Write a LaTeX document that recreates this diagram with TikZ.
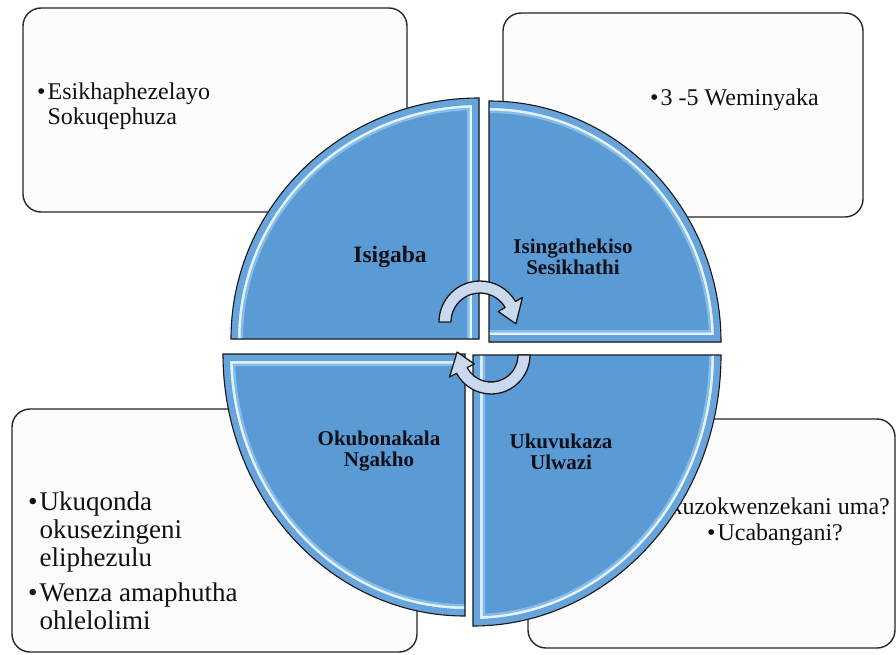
\documentclass[tikz,border=0pt]{standalone}
\usepackage{fontspec}
\setmainfont{Liberation Serif}
\definecolor{qblue}{HTML}{5B9BD5}
\definecolor{qouter}{HTML}{66A4DB}
\definecolor{qband}{HTML}{86BCE8}
\definecolor{qshine}{HTML}{E4F3FF}
\definecolor{ink}{HTML}{101018}
\definecolor{arrowfill}{HTML}{CBD9EE}
\definecolor{panelfill}{HTML}{FCFCFC}
% bullet used in the lists
\newcommand\bul{\textbullet}
% bevel highlight: clip to the shape (#1), stroke the lit edges (#2)
\newcommand\bevel[2]{%
  \begin{scope}
    \clip #1;
    \draw[line width=24pt, color=qband, line join=round] #2;
    \draw[line width=19pt, color=qshine, line join=round] #2;
    \draw[line width=14pt, color=qouter, line join=round] #2;
  \end{scope}}
\begin{document}
\begin{tikzpicture}[x=1pt, y=-1pt,
  panel/.style={draw=black!85, line width=1.4pt, fill=panelfill, rounded corners=18pt},
  quadedge/.style={draw=black!90, line width=1.1pt},
  listtext/.style={inner sep=0pt, text=ink},
  label/.style={inner sep=0pt, text=ink, font=\bfseries\fontsize{21}{21.5}\selectfont},
  cyclearrow/.style={fill=arrowfill, draw=black!90, line width=1.3pt, line join=round}]
\useasboundingbox (0,0) rectangle (896,655);

% corner panels
\draw[panel] (23,8) rectangle (407,212);
\draw[panel] (503,13) rectangle (863,217);
\draw[panel] (12,409) rectangle (417,652);
\draw[panel] (528,419) rectangle (895,648);

% panel texts
\node[listtext, anchor=base west] (tTL) at (37,100)
  {\fontsize{24}{25}\selectfont\begin{tabular}[t]{@{}l@{\hspace{2pt}}l@{}}\bul & Esikhaphezelayo\\ & Sokuqephuza\end{tabular}};
\node[listtext, anchor=base west] (tTR) at (650,106)
  {\fontsize{24}{25}\selectfont\bul\hspace{2pt}3 -5 Weminyaka};
\node[listtext, anchor=base west] (tBL) at (28,510)
  {\fontsize{27}{28}\selectfont\begin{tabular}[t]{@{}l@{\hspace{2pt}}l@{}}\bul & Ukuqonda\\ & okusezingeni\\ & eliphezulu\\[7pt] \bul & Wenza amaphutha\\ & ohlelolimi\end{tabular}};
\node[listtext, anchor=base] (tBR) at (775,514)
  {\fontsize{24}{26}\selectfont\begin{tabular}[t]{@{}c@{}}\bul\hspace{2pt}kuzokwenzekani uma?\\ \bul\hspace{2pt}Ucabangani?\end{tabular}};

% four quadrants of the disc
\def\qTL{(479,339) -- (231,339) arc[start angle=180, end angle=270, x radius=248, y radius=241] -- cycle}
\def\qTR{(489,342) -- (489,101) arc[start angle=270, end angle=360, x radius=232, y radius=241] -- cycle}
\def\qBL{(465,354) -- (465,616) arc[start angle=90, end angle=180, x radius=242, y radius=262] -- cycle}
\def\qBR{(473,355) -- (721,355) arc[start angle=0, end angle=90, x radius=248, y radius=271] -- cycle}

\fill[qblue] \qTL;
\fill[qblue] \qTR;
\fill[qblue] \qBL;
\fill[qblue] \qBR;

\bevel{\qTL}{(231,339) arc[start angle=180, end angle=270, x radius=248, y radius=241] -- (479,339)}
\bevel{\qTR}{(489,101) arc[start angle=270, end angle=360, x radius=232, y radius=241] -- (489,342)}
\bevel{\qBL}{(465,616) arc[start angle=90, end angle=180, x radius=242, y radius=262] -- (465,354)}
\bevel{\qBR}{(721,355) arc[start angle=0, end angle=90, x radius=248, y radius=271] -- (473,355)}

\draw[quadedge] \qTL;
\draw[quadedge] \qTR;
\draw[quadedge] \qBL;
\draw[quadedge] \qBR;

% quadrant labels
\node[label, font=\bfseries\fontsize{23.5}{24}\selectfont, anchor=base] (lTL) at (390,262) {Isigaba};
\node[label, anchor=base] (lTR) at (573,253)
  {\begin{tabular}[t]{@{}c@{}}Isingathekiso\\ Sesikhathi\end{tabular}};
\node[label, anchor=base] (lBL) at (379,445)
  {\begin{tabular}[t]{@{}c@{}}Okubonakala\\ Ngakho\end{tabular}};
\node[label, anchor=base] (lBR) at (561,448)
  {\begin{tabular}[t]{@{}c@{}}Ukuvukaza\\ Ulwazi\end{tabular}};

% circular arrows at the centre
\coordinate (cTop) at (480,322);
\coordinate (cBot) at (491,355);
\draw[cyclearrow] ([shift={(cTop)}]180:41) arc[start angle=180, end angle=330, radius=41]
  -- ([shift={(cTop)}]330:49) -- ([shift={(cTop)}]3:36) -- ([shift={(cTop)}]330:21)
  -- ([shift={(cTop)}]330:29) arc[start angle=330, end angle=180, radius=29] -- cycle;
\draw[cyclearrow] ([shift={(cBot)}]0:39) arc[start angle=0, end angle=152, radius=39]
  -- ([shift={(cBot)}]152:47) -- ([shift={(cBot)}]185:34) -- ([shift={(cBot)}]152:19)
  -- ([shift={(cBot)}]152:27) arc[start angle=152, end angle=0, radius=27] -- cycle;
\end{tikzpicture}
\end{document}
